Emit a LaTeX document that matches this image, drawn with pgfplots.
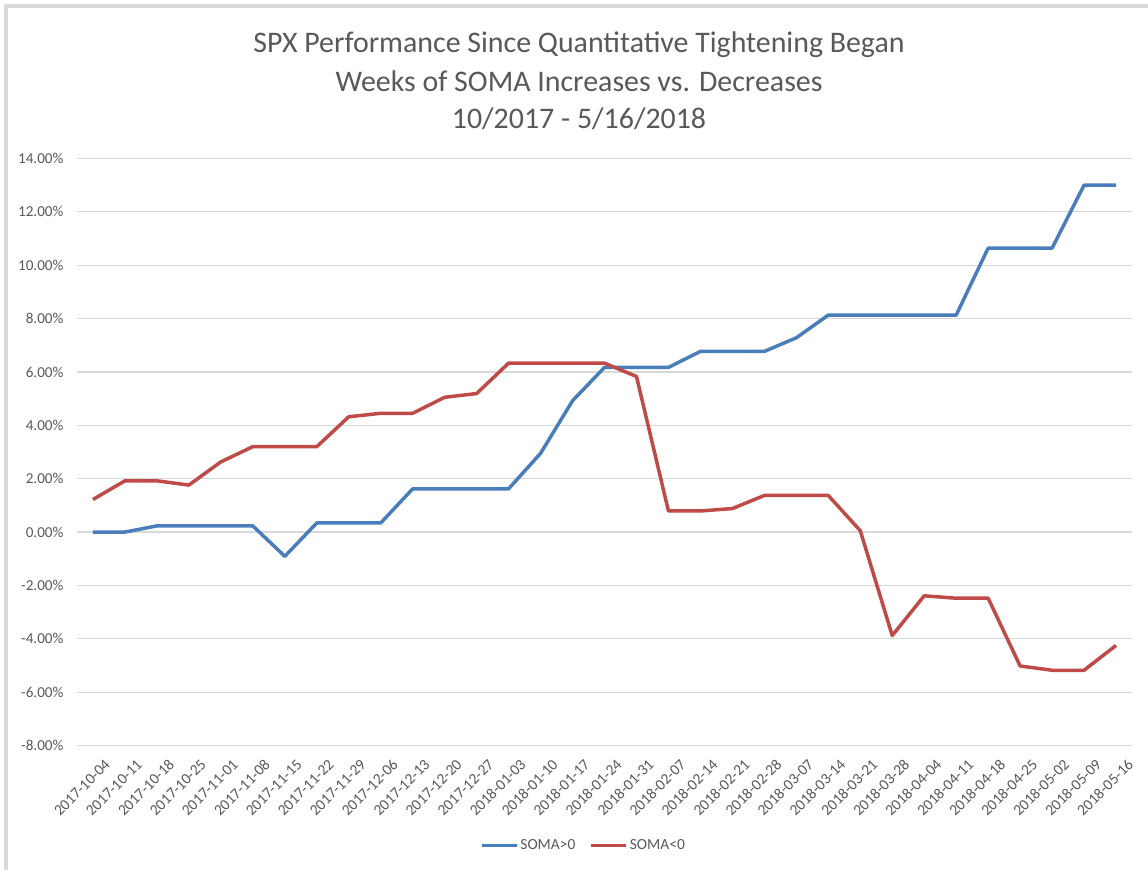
\documentclass[border=0pt]{standalone}
\usepackage{pgfplots}
\pgfplotsset{compat=1.18}
\usepackage{pgfplotstable}
\usepackage{fontspec}
\setmainfont{Carlito}
\definecolor{sblue}{HTML}{4A7EBB}
\definecolor{sred}{HTML}{BE4B48}
\definecolor{txt}{HTML}{595959}
\definecolor{gridc}{HTML}{D9D9D9}

\pgfplotstableread{
x y
0 0
1 0
2 0.23
3 0.23
4 0.23
5 0.23
6 -0.91
7 0.34
8 0.34
9 0.34
10 1.62
11 1.62
12 1.62
13 1.62
14 2.95
15 4.92
16 6.17
17 6.17
18 6.17
19 6.77
20 6.77
21 6.77
22 7.28
23 8.13
24 8.13
25 8.13
26 8.13
27 8.13
28 10.64
29 10.64
30 10.64
31 13.0
32 13.0
}\bluedata

\pgfplotstableread{
x y
0 1.22
1 1.92
2 1.92
3 1.76
4 2.63
5 3.2
6 3.2
7 3.2
8 4.32
9 4.45
10 4.45
11 5.05
12 5.19
13 6.33
14 6.33
15 6.33
16 6.33
17 5.83
18 0.79
19 0.79
20 0.88
21 1.37
22 1.37
23 1.37
24 0.05
25 -3.88
26 -2.39
27 -2.48
28 -2.48
29 -5.02
30 -5.18
31 -5.18
32 -4.25
}\reddata

\begin{document}
\begin{tikzpicture}[x=1bp,y=1bp]
\path[use as bounding box] (0,0) rectangle (1148,870);
\fill[white] (0,0) rectangle (1148,870);
\draw[color=black!15, line width=4bp] (6,0) -- (6,864) -- (1148,864);
\node[font=\fontsize{30}{34}\selectfont, text=txt] at (579,825) {SPX Performance Since Quantitative Tightening Began};
\node[font=\fontsize{30}{34}\selectfont, text=txt] at (579,789) {Weeks of SOMA Increases vs. Decreases};
\node[font=\fontsize{30}{34}\selectfont, text=txt] at (579,751) {10/2017 - 5/16/2018};
\begin{axis}[
  at={(77bp,124.5bp)}, anchor=south west,
  scale only axis, width=1055bp, height=587bp,
  xmin=-0.5, xmax=32.5, ymin=-8, ymax=14,
  ytick={-8,-6,...,14},
  xtick={0,...,32},
  xticklabels={2017-10-04,2017-10-11,2017-10-18,2017-10-25,2017-11-01,2017-11-08,2017-11-15,2017-11-22,2017-11-29,2017-12-06,2017-12-13,2017-12-20,2017-12-27,2018-01-03,2018-01-10,2018-01-17,2018-01-24,2018-01-31,2018-02-07,2018-02-14,2018-02-21,2018-02-28,2018-03-07,2018-03-14,2018-03-21,2018-03-28,2018-04-04,2018-04-11,2018-04-18,2018-04-25,2018-05-02,2018-05-09,2018-05-16},
  axis line style={draw=none},
  major tick length=0pt,
  ymajorgrids,
  grid style={gridc, line width=1.2bp},
  /pgf/number format/assume math mode=true,
  yticklabel={\pgfmathprintnumber[fixed,fixed zerofill,precision=2]{\tick}\%},
  yticklabel style={font=\fontsize{15.2}{17}\selectfont, text=txt, xshift=-10bp},
  xticklabel style={font=\fontsize{15.5}{17}\selectfont, text=txt, rotate=45, anchor=east, xshift=2bp, yshift=-22bp},
  legend style={at={(0.48,-0.17)}, anchor=center, draw=none, legend columns=2, font=\fontsize{15.5}{17}\selectfont, text=txt, /tikz/every even column/.append style={column sep=12bp}},
  legend image code/.code={\draw[#1, line width=3.5bp] (0bp,0bp) -- (35bp,0bp);},
]
\addplot[sblue, line width=3.5bp, line join=round] table[x=x,y=y] {\bluedata};
\addlegendentry{SOMA>0}
\addplot[sred, line width=3.5bp, line join=round] table[x=x,y=y] {\reddata};
\addlegendentry{SOMA<0}
\end{axis}
\end{tikzpicture}
\end{document}
